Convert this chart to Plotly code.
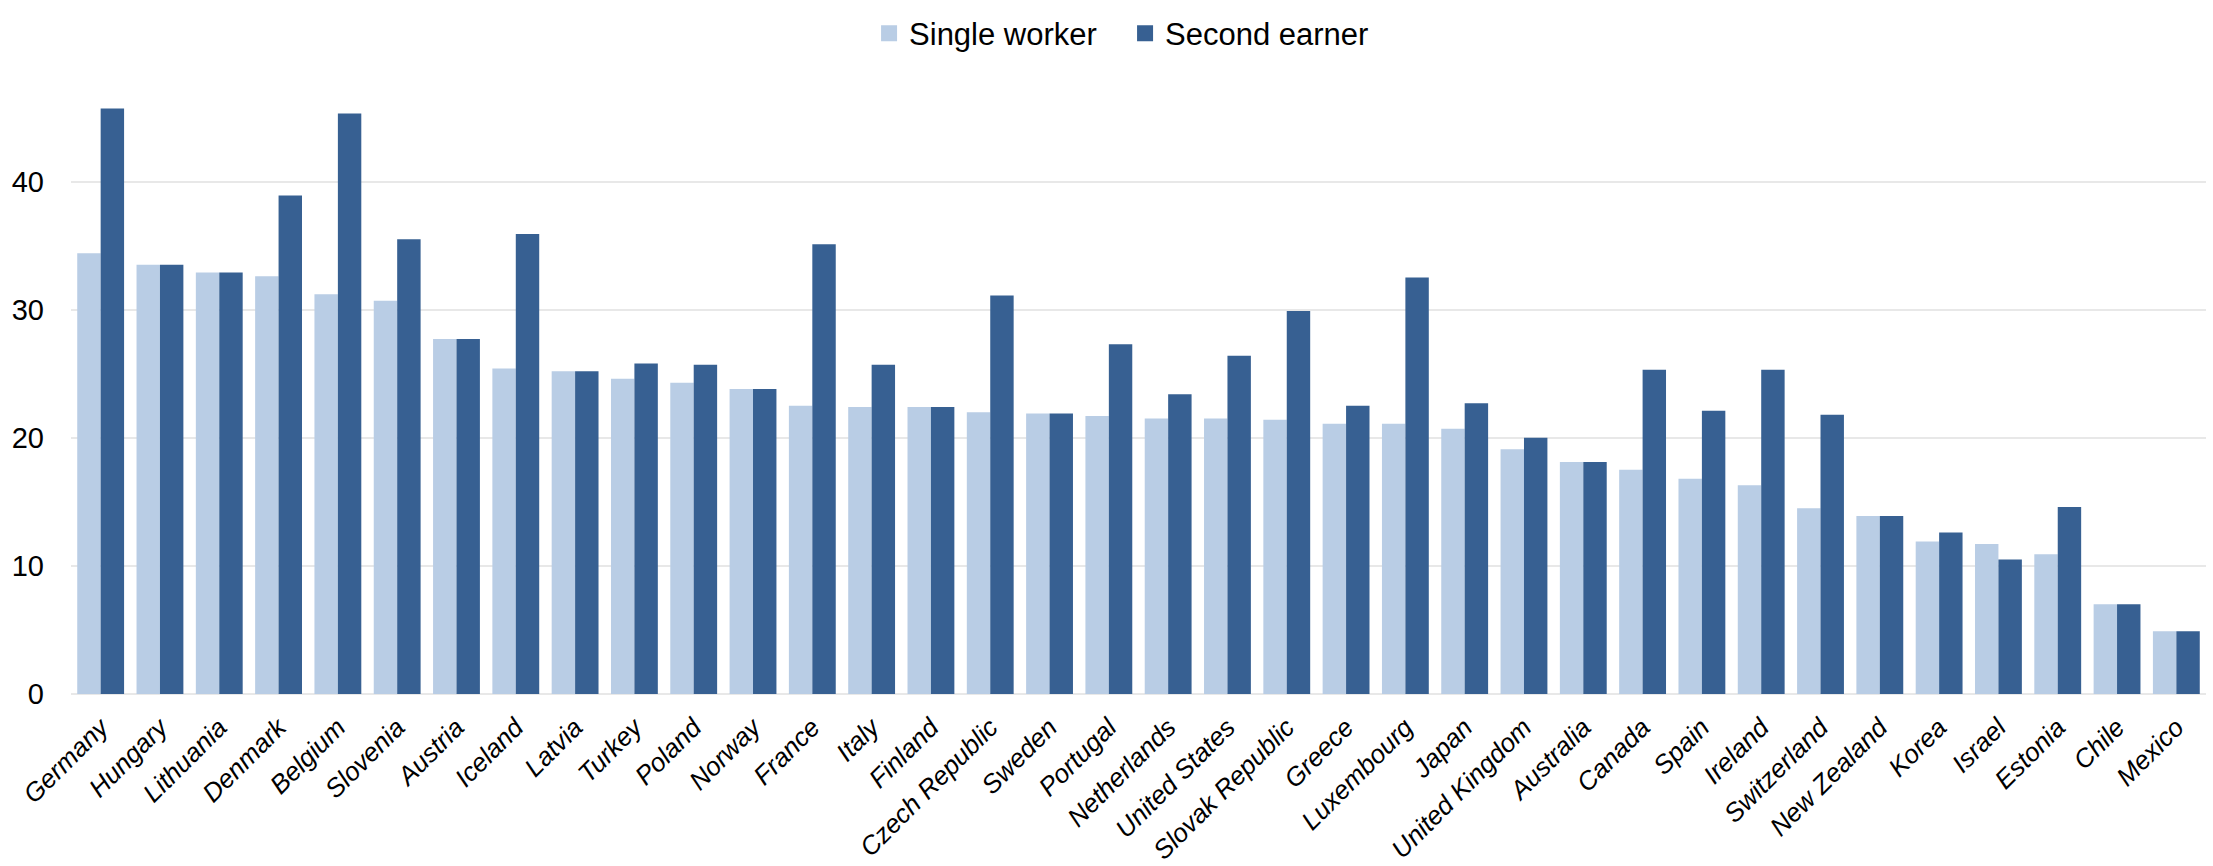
import plotly.graph_objects as go

countries = ["Germany", "Hungary", "Lithuania", "Denmark", "Belgium", "Slovenia", "Austria",
             "Iceland", "Latvia", "Turkey", "Poland", "Norway", "France", "Italy", "Finland",
             "Czech Republic", "Sweden", "Portugal", "Netherlands", "United States",
             "Slovak Republic", "Greece", "Luxembourg", "Japan", "United Kingdom", "Australia",
             "Canada", "Spain", "Ireland", "Switzerland", "New Zealand", "Korea", "Israel",
             "Estonia", "Chile", "Mexico"]
single_worker = [34.4, 33.5, 32.9, 32.6, 31.2, 30.7, 27.7, 25.4, 25.2, 24.6, 24.3, 23.8, 22.5,
                 22.4, 22.4, 22.0, 21.9, 21.7, 21.5, 21.5, 21.4, 21.1, 21.1, 20.7, 19.1, 18.1,
                 17.5, 16.8, 16.3, 14.5, 13.9, 11.9, 11.7, 10.9, 7.0, 4.9]
second_earner = [45.7, 33.5, 32.9, 38.9, 45.3, 35.5, 27.7, 35.9, 25.2, 25.8, 25.7, 23.8, 35.1,
                 25.7, 22.4, 31.1, 21.9, 27.3, 23.4, 26.4, 29.9, 22.5, 32.5, 22.7, 20.0, 18.1,
                 25.3, 22.1, 25.3, 21.8, 13.9, 12.6, 10.5, 14.6, 7.0, 4.9]
series_names = ["Single worker", "Second earner"]
y_ticks = [0, 10, 20, 30, 40]

LIGHT = "#B9CDE5"
DARK = "#376092"
FONT = "Liberation Sans, Arial, sans-serif"

fig = go.Figure()
fig.add_trace(go.Bar(x=countries, y=single_worker, name=series_names[0],
                     marker=dict(color=LIGHT, line=dict(width=0)), showlegend=False))
fig.add_trace(go.Bar(x=countries, y=second_earner, name=series_names[1],
                     marker=dict(color=DARK, line=dict(width=0)), showlegend=False))
# legend entries with larger square symbols
for nm, col in zip(series_names, [LIGHT, DARK]):
    fig.add_trace(go.Scatter(x=[None], y=[None], mode="markers", name=nm,
                             marker=dict(symbol="square", size=16, color=col)))

fig.update_layout(
    width=2213, height=866,
    margin=dict(l=71, r=7, t=72, b=172),
    paper_bgcolor="white", plot_bgcolor="white",
    barmode="group", bargap=0.21, bargroupgap=0,
    font=dict(family=FONT, color="black", size=28),
    legend=dict(orientation="h", x=0.3738, xanchor="left", y=1.074, yanchor="middle",
                font=dict(size=31, family=FONT), itemwidth=30, entrywidth=211,
                bgcolor="rgba(0,0,0,0)"),
    xaxis=dict(tickangle=-45, tickfont=dict(size=26, family=FONT, style="italic"),
               showgrid=False, showline=False, ticks="", automargin=False,
               ticklabelstandoff=12),
    yaxis=dict(range=[0, 48], tickvals=y_ticks, showgrid=True, gridcolor="#E8E8E8",
               gridwidth=2, zeroline=True, zerolinecolor="#E8E8E8", zerolinewidth=2,
               tickfont=dict(size=29, family=FONT), ticklabelstandoff=26, showline=False,
               automargin=False),
)

fig.write_html("out.html")
